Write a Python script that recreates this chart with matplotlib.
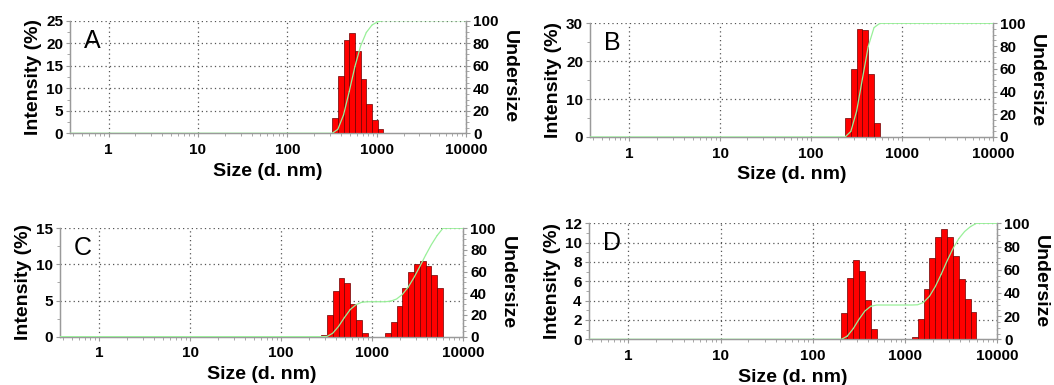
import matplotlib
matplotlib.use("Agg")
import matplotlib.pyplot as plt
import numpy as np
from matplotlib.ticker import MultipleLocator, AutoMinorLocator, LogLocator, NullFormatter, FixedLocator

plt.rcParams['font.family'] = ['Liberation Sans', 'DejaVu Sans']

# size classes (d. nm) and intensity (%)
sizes_a = [342, 396.1, 458.7, 531.2, 615.1, 712.4, 825, 955.4, 1106]
int_a = [3.5, 12.8, 20.7, 22.2, 18.2, 12.0, 6.6, 2.9, 0.95]

sizes_b = [255, 295.3, 342, 396.1, 458.7, 531.2]
int_b = [4.9, 17.9, 28.5, 28.2, 16.6, 3.8]

sizes_c = [295.3, 342, 396.1, 458.7, 531.2, 615.1, 712.4, 825,
           1484, 1718, 1990, 2305, 2669, 3091, 3580, 4145, 4801, 5560]
int_c = [0.2, 3.0, 6.3, 8.1, 7.4, 4.5, 2.3, 0.5,
         0.5, 2.0, 4.2, 6.7, 8.9, 10.1, 10.5, 9.8, 8.5, 6.7]

sizes_d = [220.2, 255, 295.3, 342, 396.1, 458.7,
           1281, 1484, 1718, 1990, 2305, 2669, 3091, 3580, 4145, 4801, 5560]
int_d = [2.7, 6.3, 8.2, 7.1, 4.1, 1.1,
         0.2, 2.1, 5.2, 8.4, 10.6, 11.4, 10.6, 8.6, 6.2, 4.2, 2.8]

letters = ["A", "B", "C", "D"]
ymax = [25, 30, 15, 12]
ystep = [5, 10, 5, 2]
xmin, xmax = 0.37, 10000
bin_ratio = 1.1581

# axes boxes in figure fractions
boxes = [[0.0664, 0.6538, 0.3757, 0.2925],
         [0.5598, 0.6442, 0.3821, 0.2953],
         [0.0569, 0.1255, 0.3826, 0.2816],
         [0.5585, 0.1187, 0.3874, 0.3013]]

spine_c = '#9a9a9a'
grid_kw = dict(color='#555555', linestyle=(0, (1, 2.5)), linewidth=0.9)
tick_fs = 11
label_fs = 14

fig = plt.figure(figsize=(10.54, 3.85), dpi=100)

panels = [(sizes_a, int_a), (sizes_b, int_b), (sizes_c, int_c), (sizes_d, int_d)]
for i, (sizes, vals) in enumerate(panels):
    sizes = np.array(sizes, dtype=float)
    vals = np.array(vals, dtype=float)
    ax = fig.add_axes(boxes[i])
    ax.set_xscale('log')
    ax.set_xlim(xmin, xmax)
    ax.set_ylim(0, ymax[i])

    lo = sizes / np.sqrt(bin_ratio)
    hi = sizes * np.sqrt(bin_ratio)
    ax.bar(lo, vals, width=hi - lo, align='edge', color='#ff0000',
           edgecolor='#6a0000', linewidth=0.5, zorder=3)

    # dotted grid at major ticks
    for x in [1, 10, 100, 1000, 10000]:
        ax.axvline(x, zorder=1, **grid_kw)
    for y in np.arange(ystep[i], ymax[i] + 0.01, ystep[i]):
        ax.axhline(y, zorder=1, **grid_kw)

    ax.spines['top'].set_visible(False)
    for s in ['left', 'bottom', 'right']:
        ax.spines[s].set_color(spine_c)
        ax.spines[s].set_linewidth(0.9)

    ax.xaxis.set_major_locator(FixedLocator([1, 10, 100, 1000, 10000]))
    ax.xaxis.set_minor_locator(LogLocator(base=10, subs=np.arange(2, 10)))
    ax.xaxis.set_minor_formatter(NullFormatter())
    ax.set_xticklabels(['1', '10', '100', '1000', '10000'])
    ax.yaxis.set_major_locator(MultipleLocator(ystep[i]))
    ax.yaxis.set_minor_locator(AutoMinorLocator(2))
    ax.tick_params(which='both', color=spine_c, labelsize=tick_fs, pad=2)
    ax.tick_params(axis='x', which='both', pad=4)
    ax.tick_params(which='major', length=3)
    ax.tick_params(which='minor', length=2)
    for lab in ax.get_xticklabels() + ax.get_yticklabels():
        lab.set_fontweight('bold')

    ax.set_xlabel("Size (d. nm)", fontsize=label_fs, fontweight='bold', labelpad=4)
    ax.set_ylabel("Intensity (%)", fontsize=label_fs, fontweight='bold', labelpad=3)
    ax.text(0.035, 0.93, letters[i], transform=ax.transAxes, fontsize=18,
            ha='left', va='top', zorder=5)

    # undersize curve on the right axis
    ax2 = ax.twinx()
    ax2.set_ylim(0, 100)
    cum = np.cumsum(vals)
    before = np.concatenate([[0], cum[:-1]])
    cx = np.concatenate([[xmin], np.column_stack([lo, hi]).ravel(), [xmax]])
    cy = np.concatenate([[0], np.column_stack([before, cum]).ravel(), [cum[-1]]])
    cy = cy / cy[-1] * 100
    ax2.plot(cx, cy, color='#99f099', linewidth=0.9, zorder=4)
    ax2.set_xlim(xmin, xmax)
    ax2.spines['top'].set_visible(False)
    for s in ['left', 'bottom', 'right']:
        ax2.spines[s].set_color(spine_c)
        ax2.spines[s].set_linewidth(0.9)
    ax2.yaxis.set_major_locator(MultipleLocator(20))
    ax2.yaxis.set_minor_locator(AutoMinorLocator(4))
    ax2.tick_params(which='both', color=spine_c, labelsize=tick_fs, pad=2)
    ax2.tick_params(which='major', length=3)
    ax2.tick_params(which='minor', length=2)
    for lab in ax2.get_yticklabels():
        lab.set_fontweight('bold')
    ax2.set_ylabel("Undersize", fontsize=label_fs, fontweight='bold',
                   rotation=270, va='bottom', labelpad=2)

plt.savefig("out.png", dpi=100)
